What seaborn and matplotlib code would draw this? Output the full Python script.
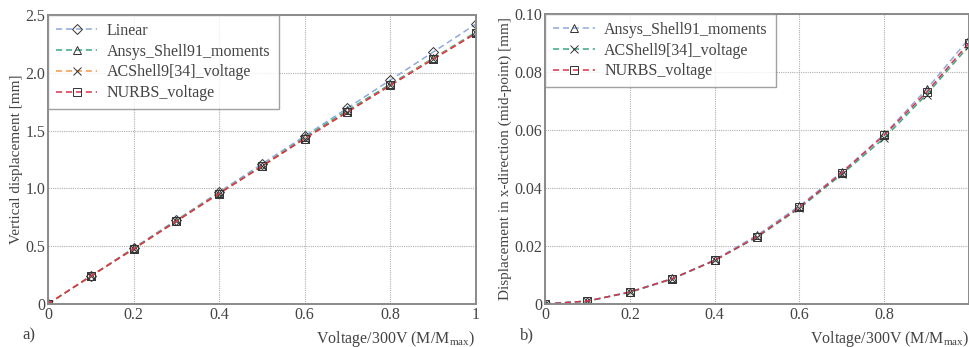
import matplotlib
matplotlib.use("Agg")
import matplotlib.pyplot as plt
import seaborn as sns
import pandas as pd

# ---- data ----
x_vals = [0, 0.1, 0.2, 0.3, 0.4, 0.5, 0.6, 0.7, 0.8, 0.9, 1.0]

a_linear = [0, 0.242, 0.484, 0.726, 0.968, 1.21, 1.452, 1.694, 1.936, 2.178, 2.42]
a_ansys = [0, 0.24, 0.48, 0.72, 0.96, 1.195, 1.44, 1.675, 1.9, 2.125, 2.35]
a_acshell = [0, 0.24, 0.475, 0.715, 0.955, 1.19, 1.43, 1.66, 1.89, 2.12, 2.34]
a_nurbs = [0, 0.24, 0.475, 0.715, 0.955, 1.19, 1.43, 1.66, 1.89, 2.115, 2.34]

b_ansys = [0, 0.001, 0.0042, 0.0088, 0.0152, 0.0237, 0.0338, 0.0455, 0.0585, 0.074, 0.0915]
b_acshell = [0, 0.001, 0.0040, 0.0086, 0.0150, 0.0230, 0.0330, 0.0447, 0.0572, 0.0722, 0.0890]
b_nurbs = [0, 0.001, 0.0041, 0.0087, 0.0150, 0.0232, 0.0333, 0.0452, 0.0582, 0.0730, 0.0900]

a_names = ["Linear", "Ansys_Shell91_moments", "ACShell9[34]_voltage", "NURBS_voltage"]
b_names = ["Ansys_Shell91_moments", "ACShell9[34]_voltage", "NURBS_voltage"]
a_yticks = [0, 0.5, 1.0, 1.5, 2.0, 2.5]
a_yticklabels = ["0", "0.5", "1.0", "1.5", "2.0", "2.5"]
b_yticks = [0, 0.02, 0.04, 0.06, 0.08, 0.10]
b_yticklabels = ["0", "0.02", "0.04", "0.06", "0.08", "0.10"]
xticks = [0, 0.2, 0.4, 0.6, 0.8, 1.0]
a_xticklabels = ["0", "0.2", "0.4", "0.6", "0.8", "1"]
b_xticklabels = ["0", "0.2", "0.4", "0.6", "0.8", ""]

sns.set_style("white")
plt.rcParams["font.family"] = ["Liberation Serif", "DejaVu Serif"]
plt.rcParams["mathtext.fontset"] = "custom"
plt.rcParams["mathtext.rm"] = "Liberation Serif"
plt.rcParams["mathtext.it"] = "Liberation Serif"

fig = plt.figure(figsize=(9.69, 3.47), dpi=100)
ax1 = fig.add_axes([0.0495, 0.124, 0.4415, 0.833])
ax2 = fig.add_axes([0.5625, 0.124, 0.4375, 0.836])

c_blue = "#8fa9dc"
c_green = "#3aa983"
c_orange = "#f29a4a"
c_red = "#d8334a"
txt = "#444444"
spine_c = "#8a8a8a"

def draw(ax, series, names, colors, markers):
    for ys, name, col, mk in zip(series, names, colors, markers):
        df = pd.DataFrame({"x": x_vals, "y": ys})
        ms = 6 if mk != "D" else 5
        sns.lineplot(data=df, x="x", y="y", ax=ax, color=col, linestyle=(0, (4, 2.5)),
                     linewidth=1.1, marker=mk, markersize=ms, markerfacecolor="none",
                     markeredgecolor="#333333", markeredgewidth=0.7, label=name)

draw(ax1, [a_linear, a_ansys, a_acshell, a_nurbs], a_names,
     [c_blue, c_green, c_orange, c_red], ["D", "^", "x", "s"])
draw(ax2, [b_ansys, b_acshell, b_nurbs], b_names,
     [c_blue, c_green, c_red], ["^", "x", "s"])

for ax, yt, ytl, xtl, ylim, ylabel, tag in [
        (ax1, a_yticks, a_yticklabels, a_xticklabels, (0, 2.5), "Vertical displacement [mm]", "a)"),
        (ax2, b_yticks, b_yticklabels, b_xticklabels, (0, 0.10), "Displacement in x-direction (mid-point) [mm]", "b)")]:
    ax.set_xlim(0, 1.0)
    ax.set_ylim(*ylim)
    ax.set_xticks(xticks)
    ax.set_xticklabels(xtl)
    ax.set_yticks(yt)
    ax.set_yticklabels(ytl)
    ax.tick_params(axis="both", length=0, labelsize=11.5, labelcolor=txt, pad=2)
    ax.grid(True, linestyle=(0, (1, 1)), color="#b0b0b0", linewidth=0.8)
    for s in ax.spines.values():
        s.set_color(spine_c)
        s.set_linewidth(1.4)
        s.set_visible(True)
    ax.set_xlabel("Voltage/300V (M/M$_{\\mathrm{max}}$)", fontsize=11.5, color=txt)
    ax.xaxis.set_label_coords(1.0, -0.085)
    ax.xaxis.label.set_horizontalalignment("right")
    ax.set_ylabel(ylabel, fontsize=11, color=txt, labelpad=2)
    ax.text(-0.06, -0.08, tag, transform=ax.transAxes, fontsize=12, color=txt,
            ha="left", va="top")
    leg = ax.legend(loc="upper left", fontsize=11.5, frameon=True, fancybox=False,
                    edgecolor=spine_c, handlelength=2.6, borderaxespad=0,
                    labelspacing=0.3, handletextpad=0.6, borderpad=0.5)
    leg.get_frame().set_linewidth(1.0)
    for t in leg.get_texts():
        t.set_color(txt)

fig.savefig("out.png", dpi=100)
